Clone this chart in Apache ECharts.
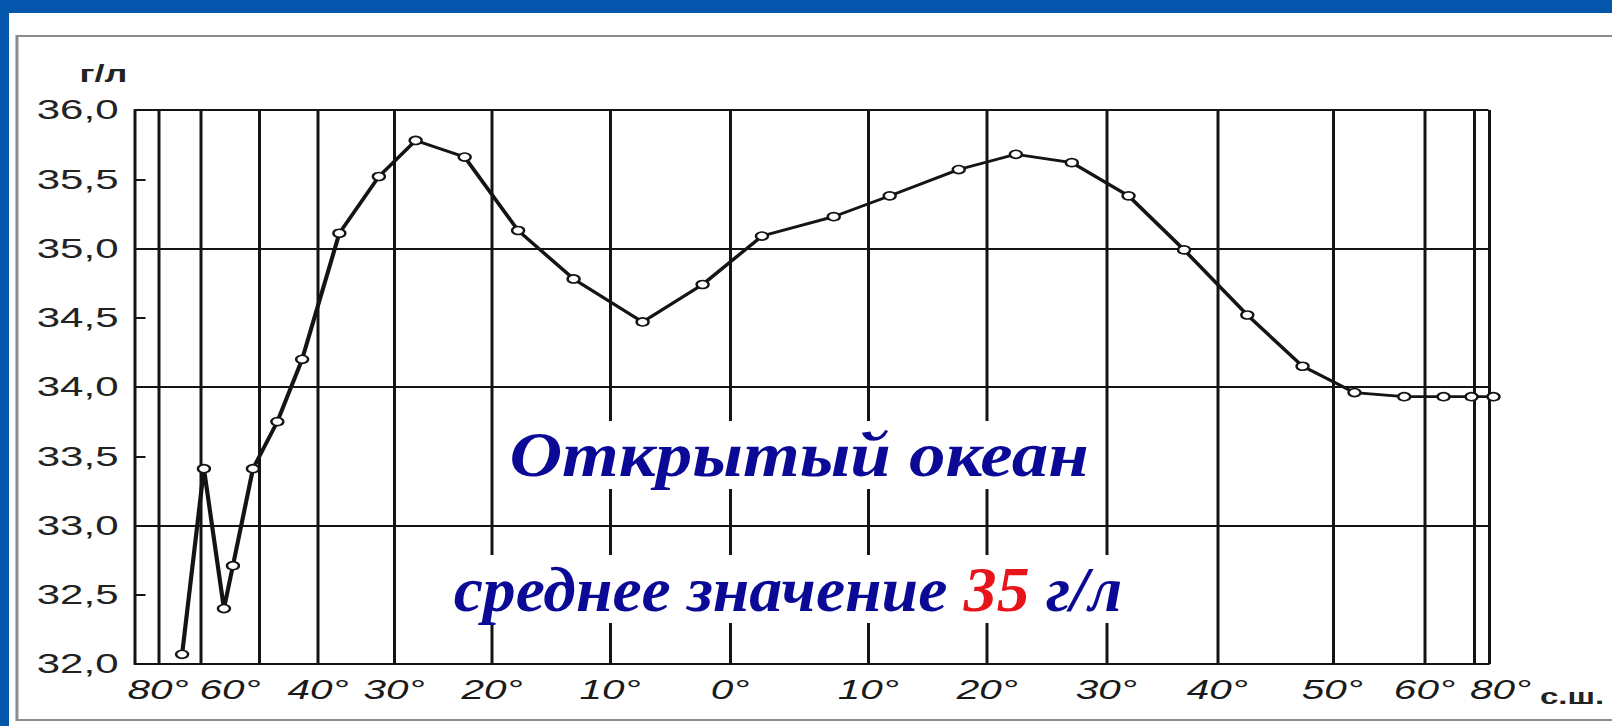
<!DOCTYPE html>
<html><head><meta charset="utf-8">
<script src="https://cdn.jsdelivr.net/npm/echarts@6/dist/echarts.min.js"></script>
<style>
html,body{margin:0;padding:0;background:#0456ad;overflow:hidden;width:1612px;height:726px;}
#chart{width:1074.667px;height:726px;transform:scaleX(1.5);transform-origin:0 0;}
</style></head><body><div id="chart"></div>
<script>
// ---- data ----
const latitudes = [-74.4,-69.0,-62.1,-59.0,-52.1,-46.9,-42.7,-37.2,-32.0,-27.8,-22.8,-17.8,-13.1,-7.3,-2.3,2.3,7.5,11.8,17.6,22.4,27.1,32.0,37.0,42.6,47.4,52.4,57.8,67.8,79.2,88];
const salinity  = [32.07,33.41,32.40,32.71,33.41,33.75,34.20,35.11,35.52,35.78,35.66,35.13,34.78,34.47,34.74,35.09,35.23,35.38,35.57,35.68,35.62,35.38,34.99,34.52,34.15,33.96,33.93,33.93,33.93,33.93];
const gridLatitudes = [-80,-70,-50,-40,-30,-20,-10,0,10,20,30,40,50,60,80,86];
const tickLatitudes = [-80,-60,-40,-30,-20,-10,0,10,20,30,40,50,60,80];
const tickLabels = ['80°','60°','40°','30°','20°','10°','0°','10°','20°','30°','40°','50°','60°','80°'];
const yUnit = 'г/л';
const xUnit = 'с.ш.';
const title1 = 'Открытый океан';
const title2a = 'среднее значение ';
const title2b = '35';
const title2c = ' г/л';

// ---- uneven latitude scale of the original chart (piecewise linear) ----
const LAT_KNOTS = [-90,-80,-70,-50,-40,-30,-20,-10,0,10,20,30,40,50,60,80,86];
const LAT_SCALE = [0,23,66,124,183,259,357,475,595,733,852,971,1082,1197,1289,1338,1353];
function proj(lat){
  let i = 0;
  while (i < LAT_KNOTS.length - 2 && lat > LAT_KNOTS[i+1]) i++;
  const a = LAT_KNOTS[i], b = LAT_KNOTS[i+1];
  return LAT_SCALE[i] + (lat - a) / (b - a) * (LAT_SCALE[i+1] - LAT_SCALE[i]);
}

const chart = echarts.init(document.getElementById('chart'), null, {renderer:'svg'});
const ink = '#141414';
const titleFont = {fontSize:64, fontStyle:'italic', fontWeight:'bold', fontFamily:'Liberation Serif'};
const option = {
  animation:false,
  backgroundColor:'#ffffff',
  grid:{left:90, right:82.67, top:110, bottom:62},
  xAxis:{
    type:'value', min:proj(-90), max:proj(86),
    axisLine:{show:true, lineStyle:{color:ink, width:2}},
    axisTick:{show:false},
    splitLine:{show:false},
    axisLabel:{
      customValues: tickLatitudes.map(proj),
      formatter:function(v){
        const i = tickLatitudes.findIndex(l => Math.abs(proj(l) - v) < 0.01);
        if (i < 0) return '';
        return i === tickLatitudes.length - 1 ? '{e|' + tickLabels[i] + '}' : tickLabels[i];
      },
      fontSize:27, fontStyle:'italic', fontFamily:'Liberation Sans', color:'#1a1a1a', margin:12,
      rich:{e:{padding:[0,0,0,36], fontSize:27, fontStyle:'italic', fontFamily:'Liberation Sans', color:'#1a1a1a'}}
    },
    name:xUnit, nameLocation:'end', nameGap:33,
    nameTextStyle:{fontSize:22, fontWeight:'bold', fontFamily:'Liberation Sans', color:'#222', verticalAlign:'top', align:'left', padding:[22,0,0,0]}
  },
  yAxis:{
    type:'value', min:32, max:36, interval:0.5,
    axisLine:{show:true, lineStyle:{color:ink, width:2}},
    axisTick:{show:true, inside:true, length:7, lineStyle:{color:ink, width:2}},
    axisLabel:{formatter:v => v.toFixed(1).replace('.', ','), fontSize:28, fontFamily:'Liberation Sans', color:'#222', margin:11},
    splitLine:{show:true, lineStyle:{color:[ink,'rgba(0,0,0,0)'], width:2}},
    name:yUnit, nameLocation:'end', nameGap:25,
    nameTextStyle:{fontSize:24, fontWeight:'bold', fontFamily:'Liberation Sans', color:'#222', align:'center', padding:[0,42,0,0]}
  },
  series:[
    {
      type:'line', data:[], z:1, silent:true,
      markLine:{
        silent:true, symbol:'none', label:{show:false}, animation:false,
        lineStyle:{color:ink, width:2, type:'solid'},
        data: gridLatitudes.map(l => ({xAxis: proj(l)}))
      }
    },
    {
      type:'line', z:5, clip:false,
      data: latitudes.map((l, i) => [proj(l), salinity[i]]),
      symbol:'circle', symbolSize:8,
      itemStyle:{color:'#ffffff', borderColor:ink, borderWidth:1.6},
      lineStyle:{color:ink, width:2.8}
    }
  ],
  graphic:[
    {type:'rect', silent:true, shape:{x:0, y:0, width:1080, height:13}, style:{fill:'#0456ad'}},
    {type:'rect', silent:true, shape:{x:0, y:0, width:6, height:726}, style:{fill:'#0456ad'}},
    {type:'rect', silent:true, shape:{x:11.3, y:36, width:1100, height:684}, style:{fill:'none', stroke:'#8c8c8c', lineWidth:2}},
    {type:'text', silent:true, x:532.7, y:455, scaleX:0.76, z:100,
      style:Object.assign({text:title1, fill:'#0a0a96', align:'center', verticalAlign:'middle', backgroundColor:'#ffffff', padding:[2,6]}, titleFont)},
    {type:'text', silent:true, x:525.3, y:589, scaleX:0.685, z:100,
      style:{text:'{a|' + title2a + '}{r|' + title2b + '}{a|' + title2c + '}',
             rich:{
               a:Object.assign({fill:'#0a0a96', color:'#0a0a96'}, titleFont),
               r:Object.assign({fill:'#e8141c', color:'#e8141c'}, titleFont)
             },
             align:'center', verticalAlign:'middle', backgroundColor:'#ffffff', padding:[2,8]}}
  ]
};
chart.setOption(option);
</script>
</body></html>
